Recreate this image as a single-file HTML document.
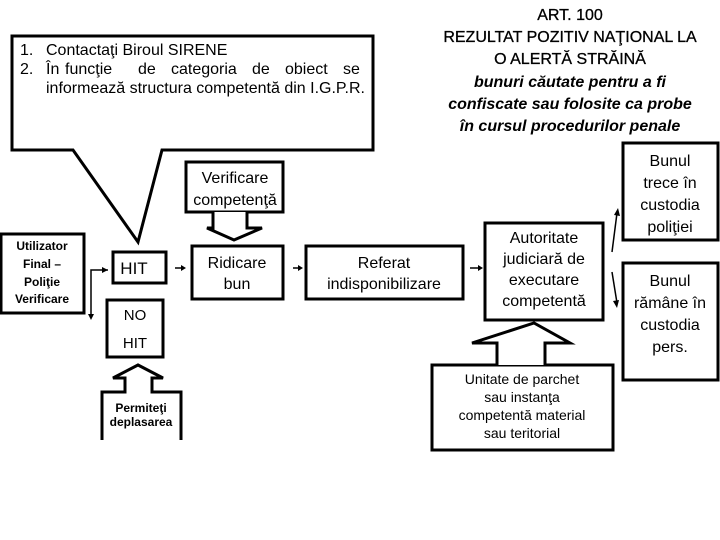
<!DOCTYPE html>
<html><head><meta charset="utf-8"><style>
html,body{margin:0;padding:0;background:#fff;width:720px;height:540px;overflow:hidden}
svg{display:block}
text{font-family:"Liberation Sans",sans-serif;fill:#000}
</style></head><body>
<svg width="720" height="540" viewBox="0 0 720 540" xmlns="http://www.w3.org/2000/svg">
<g fill="#fff" stroke="#000" stroke-width="3">
<path d="M12,36 H373 V150 H162 L138,242 L73,150 H12 Z"/>
<rect x="186" y="162" width="97" height="50"/>
<path d="M213,212 V228 H207 L234,240 L262,228 H247 V212"/>
<rect x="1" y="234" width="83" height="79"/>
<rect x="113" y="252" width="53" height="31"/>
<rect x="107" y="300" width="56" height="57"/>
<rect x="192" y="246" width="91" height="53"/>
<rect x="306" y="246" width="157" height="53"/>
<rect x="485" y="223" width="118" height="97"/>
<rect x="623" y="143" width="95" height="97"/>
<rect x="623" y="263" width="95" height="117"/>
<rect x="432" y="365" width="181" height="85"/>
<path d="M497,365 V343 H472 L534,323 L570,343 H545 V365"/>
<path d="M102,440 V392 H125 V378 H113 L138,365 L163,378 H152 V392 H181 V440"/>
</g>
<g stroke="#000" stroke-width="1.5" fill="none">
<path d="M108,270 H91 V315"/>
<line x1="175" y1="268" x2="183" y2="268"/>
<line x1="293" y1="268" x2="300" y2="268"/>
<line x1="470" y1="268" x2="478" y2="268"/>
<line x1="612" y1="252" x2="617" y2="213"/>
<line x1="612" y1="272" x2="617" y2="303"/>
</g>
<g fill="#000">
<path d="M108,270 l-6,-3 v6z"/>
<path d="M91,320 l-3,-6 h6z"/>
<path d="M186,268 l-5,-3 v6z"/>
<path d="M303,268 l-5,-3 v6z"/>
<path d="M483,268 l-5,-3 v6z"/>
<path d="M618,208 l-4,7 6,1z"/>
<path d="M617,308 l-4,-7 6,-1z"/>
</g>
<g font-size="16">
<text x="20" y="55">1.</text><text x="46" y="55">Contactaţi Biroul SIRENE</text>
<text x="20" y="74">2.</text>
<text x="46" y="74">În</text><text x="65" y="74">funcţie</text><text x="138" y="74">de</text><text x="171" y="74">categoria</text><text x="252" y="74">de</text><text x="285" y="74">obiect</text><text x="343" y="74">se</text>
<text x="46" y="93">informează structura competentă din I.G.P.R.</text>
</g>
<g text-anchor="middle">
<text x="570" y="20" font-size="16" stroke="#000" stroke-width="0.3">ART. 100</text>
<text x="570" y="42" font-size="16" stroke="#000" stroke-width="0.3">REZULTAT POZITIV NAŢIONAL LA</text>
<text x="570" y="64" font-size="16" stroke="#000" stroke-width="0.3">O ALERTĂ STRĂINĂ</text>
<g font-size="16" font-weight="bold" font-style="italic">
<text x="570" y="87">bunuri căutate pentru a fi</text>
<text x="570" y="109">confiscate sau folosite ca probe</text>
<text x="570" y="131">în cursul procedurilor penale</text>
</g>
<text x="235" y="183" font-size="16">Verificare</text>
<text x="235" y="205" font-size="16">competenţă</text>
<g font-size="12" font-weight="bold">
<text x="42" y="250">Utilizator</text>
<text x="42" y="268">Final –</text>
<text x="42" y="286">Poliţie</text>
<text x="42" y="303">Verificare</text>
<text x="141" y="412">Permiteţi</text>
<text x="141" y="426">deplasarea</text>
</g>
<text x="134" y="274" font-size="17">HIT</text>
<text x="135" y="320" font-size="15">NO</text>
<text x="135" y="348" font-size="15">HIT</text>
<g font-size="16">
<text x="237" y="268">Ridicare</text>
<text x="237" y="289">bun</text>
<text x="384" y="268">Referat</text>
<text x="384" y="289">indisponibilizare</text>
<text x="544" y="243">Autoritate</text>
<text x="544" y="264">judiciară de</text>
<text x="544" y="285">executare</text>
<text x="544" y="306">competentă</text>
<text x="670" y="166">Bunul</text>
<text x="670" y="188">trece în</text>
<text x="670" y="210">custodia</text>
<text x="670" y="232">poliţiei</text>
<text x="670" y="286">Bunul</text>
<text x="670" y="308">rămâne în</text>
<text x="670" y="330">custodia</text>
<text x="670" y="352">pers.</text>
</g>
<g font-size="14">
<text x="522" y="384">Unitate de parchet</text>
<text x="522" y="402">sau instanţa</text>
<text x="522" y="420">competentă material</text>
<text x="522" y="438">sau teritorial</text>
</g>
</g>
</svg>
</body></html>
